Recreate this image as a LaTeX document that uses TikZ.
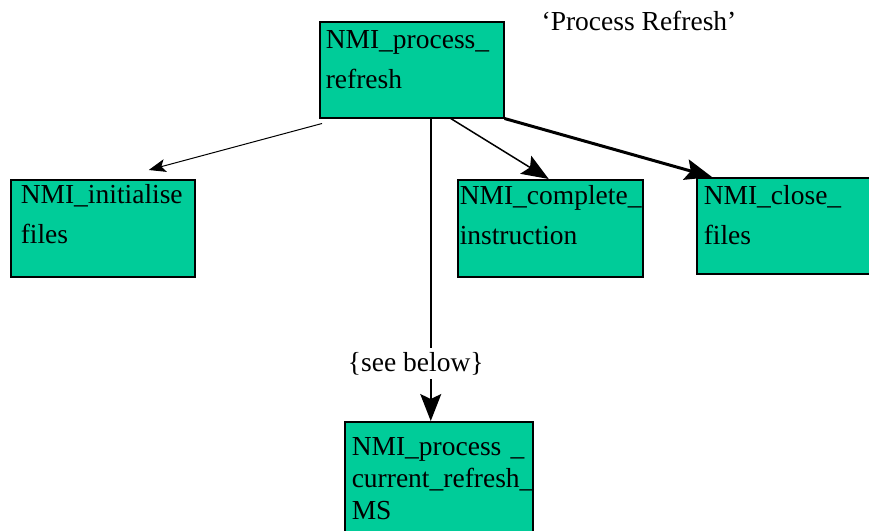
\documentclass[tikz,border=0pt]{standalone}
\usepackage{fontspec}
\setmainfont{Liberation Serif}
\usetikzlibrary{arrows.meta}
\definecolor{procgreen}{HTML}{00CC99}
\begin{document}
\begin{tikzpicture}[x=1pt, y=-1pt, >={Stealth[length=27pt,width=21pt,inset=5pt]}, font=\fontsize{27.5}{40}\selectfont,
		proc/.style={draw, line width=1.5pt, fill=procgreen, anchor=north west, align=left, inner ysep=0pt},
		link/.style={->, line width=1.5pt}]
				\clip (0,0) rectangle (869,530);
				\node[anchor=base] (title) at (639,30) {‘Process Refresh’};
				\node[proc, inner xsep=6pt, text width=172pt, text height=27pt, text depth=69pt] (refresh) at (319,21) {NMI\_process\_\\refresh};
				\node[proc, inner xsep=10pt, text width=164pt, text height=24pt, text depth=73pt] (ini) at (10,179) {NMI\_initialise\\files};
				\node[proc, inner xsep=2pt, text width=181pt, text height=25pt, text depth=72pt] (cmp) at (457,179) {NMI\_complete\_\\instruction};
				\node[proc, inner xsep=7pt, text width=171pt, text height=27pt, text depth=69pt] (cls) at (696,177) {NMI\_close\_\\files};
				\node[proc, inner xsep=7pt, text width=174pt, text height=34pt, text depth=130pt, font=\fontsize{27.5}{32}\selectfont] (cur) at (344,421) {NMI\_process \_\\current\_refresh\_\\MS};
				\draw[link, line width=1pt, >={Stealth[length=17pt,width=13pt,inset=4pt]}] ([shift={(3pt,-5pt)}]refresh.south west) -- ([shift={(46pt,9pt)}]ini.north);
				\draw[link] ([xshift=39pt]refresh.south) -- ([xshift=-1.5pt]cmp.north);
				\draw[link, line width=3pt] (refresh.south east) -- ([xshift=16pt]cls.north west);
				\draw[link] ([xshift=19pt]refresh.south) -- node[pos=.81, xshift=-15pt, fill=white, inner ysep=4pt] (see) {\{see below\}} ([xshift=-8pt]cur.north);
		\end{tikzpicture}
\end{document}
